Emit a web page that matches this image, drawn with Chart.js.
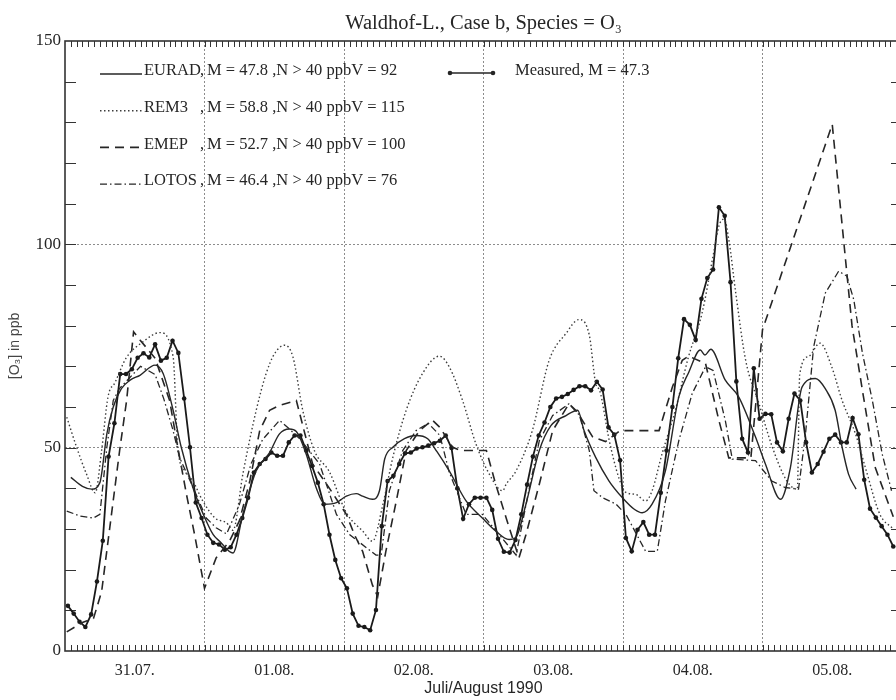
<!DOCTYPE html>
<html>
<head>
<meta charset="utf-8">
<script src="https://cdn.jsdelivr.net/npm/chart.js@4.4.1/dist/chart.umd.min.js"></script>
<style>
  html, body { margin: 0; padding: 0; background: #fff; overflow: hidden; }
  #wrap { width: 912px; height: 700px; }
</style>
</head>
<body>
<div id="wrap"><canvas id="chart" width="912" height="700"></canvas></div>
<script>
// hours since 31.07. 00:00
const dayLabels = ['31.07.', '01.08.', '02.08.', '03.08.', '04.08.', '05.08.'];

const modelNames = ['EURAD', 'REM3', 'EMEP', 'LOTOS'];
const modelMeans = ['47.8', '58.8', '52.7', '46.4'];
const modelCounts = ['92', '115', '100', '76'];
const measuredMean = '47.3';

// measured, hourly values (first one at 00:30 on 31.07.)
const measuredValues = [
  11.1, 9.2, 7.2, 5.9, 9.0, 17.1, 27.1, 47.8, 56.0, 68.1,
  68.1, 69.3, 72.1, 73.2, 72.2, 75.4, 71.4, 72.1, 76.3, 73.3,
  62.1, 50.1, 36.5, 32.7, 28.6, 26.6, 26.2, 24.9, 25.5, 28.6,
  32.7, 37.7, 43.9, 46.0, 47.2, 48.8, 48.0, 48.0, 51.3, 53.0,
  53.0, 49.3, 45.5, 41.4, 36.1, 28.6, 22.4, 17.9, 15.4, 9.2,
  6.2, 5.9, 5.1, 10.1, 30.7, 41.8, 43.1, 46.0, 48.6, 48.8,
  49.8, 50.1, 50.5, 51.1, 51.7, 53.0, 49.9, 40.0, 32.5, 36.1,
  37.7, 37.7, 37.7, 34.7, 27.6, 24.4, 24.2, 27.3, 33.6, 40.9,
  47.8, 53.0, 56.2, 60.0, 62.1, 62.5, 63.2, 64.2, 65.1, 65.1,
  64.1, 66.2, 64.3, 55.0, 53.2, 46.9, 27.8, 24.5, 29.8, 31.7,
  28.6, 28.6, 38.9, 49.3, 60.0, 72.0, 81.6, 80.2, 76.5, 86.6,
  91.7, 93.8, 109.1, 107.0, 90.7, 66.3, 52.2, 48.8, 69.5, 57.1,
  58.3, 58.2, 51.3, 49.1, 57.1, 63.3, 61.6, 51.3, 43.9, 46.0,
  49.0, 52.2, 53.2, 51.3, 51.3, 57.3, 53.3, 42.1, 35.0, 32.8,
  30.7, 28.6, 25.7
];

const euradHours = [1, 3, 4.6, 6, 7.2, 8.3, 9.7, 11.2, 12.9, 15.5, 16.9, 18.6, 20, 22, 23.8, 25.5, 26.6, 28.9, 30.6, 32.9,
  35.2, 36.9, 38.6, 39.8, 41.5, 43.2, 44.7, 46.7, 48.4, 50.1, 51.2, 52.9, 54.1, 55, 56.4, 58.4, 60.4, 62.4, 64, 66.1,
  69, 71.8, 74.1, 76.4, 77.6, 79.3, 81.6, 83.6, 86.2, 88.2, 89.3, 91.3, 93.6, 95.9, 98, 99.3, 101, 103.3, 105.6, 107.3,
  109.3, 110.1, 111.1, 113.6, 115.9, 118.8, 120.5, 123.1, 124.8, 126.8, 129.1, 130.8, 132.5, 133.7, 134.8, 136.1];
const euradValues = [42.7, 40.5, 39.8, 41.4, 53.4, 60, 64.5, 66.6, 67.8, 70.3, 68.2, 59.2, 50.1, 40.2, 33.6, 28.6, 27, 24.1, 33.6, 44.3,
  48.8, 53.4, 54.6, 54, 48.4, 40.2, 36.1, 36.5, 38.1, 38.7, 38.1, 37.3, 39.4, 47.2, 50.1, 52.2, 53, 52.2, 49, 44.3,
  36.9, 32.7, 29.5, 27.4, 28, 36.1, 49.3, 55.4, 57.9, 59.2, 54.2, 47.6, 41.8, 37.7, 34.8, 34, 36.1, 44.3, 62.5, 68.5,
  74, 72.8, 74.2, 66.6, 62.5, 52.6, 46, 37.3, 45.1, 64.9, 67, 64.5, 59.2, 50.1, 43.5, 39.8];

const remHours = [0.3, 2, 3.7, 5.2, 6.3, 7.4, 8.6, 10.5, 13.4, 16.3, 18.6, 19.4, 20.6, 22, 23.7, 25.8, 27.8, 28.9, 30.6, 32.9,
  34.6, 36, 37.8, 39.2, 40.9, 42.9, 45.5, 48.4, 51.2, 52.9, 54.7, 56.4, 58.7, 61.5, 64.4, 66.1, 68.4, 70.7, 73, 75.3,
  75.9, 77.6, 80.4, 83.3, 86.2, 88.4, 90.2, 91.3, 92, 93.6, 95.3, 96.5, 98.2, 99.9, 101, 102.7, 105, 107.2, 109.6, 111.6,
  112.5, 113.4, 114.2, 115.4, 117.1, 119.4, 121.6, 124.2, 126, 126.4, 127.9, 129.9, 131.9, 133.7, 136, 137.7, 140.2, 142.5];
const remValues = [57.5, 50.1, 43.5, 38.9, 49.3, 62.5, 66, 72, 76, 78.3, 72.4, 50, 44.3, 41.8, 36.9, 32.7, 31.5, 29.7, 43.5, 59.2,
  68.2, 73, 75.2, 72.4, 59.2, 49.3, 44, 34, 29.5, 27, 36.1, 47.6, 59.2, 68.2, 72.5, 69.9, 61.6, 50.9, 43.5, 39.4,
  41, 44.3, 54.2, 71.5, 78.1, 81.5, 77.7, 65.8, 64, 52, 42.5, 39, 38.5, 36.9, 39.4, 48.4, 59.2, 72, 83.1, 97.9,
  104.5, 106.2, 101.2, 88, 71.5, 60.8, 50.5, 41.8, 39.8, 68, 72.4, 75.7, 69.9, 61.6, 53.4, 45.1, 33.6, 30];

const emepHours = [0.3, 3, 4.9, 6.3, 7.7, 9.4, 10.6, 11.8, 12.9, 15.5, 18, 19.2, 20.9, 22.3, 24, 26, 28.3, 30, 31.8, 33.5,
  35.2, 36.9, 39.8, 42.6, 45.5, 48.4, 49.8, 51.2, 52.9, 53.8, 55.2, 57, 58.7, 61, 63.2, 64.5, 66.7, 68, 72.5, 74.1,
  75.9, 78.1, 79.3, 81.6, 83.9, 86.7, 88, 90.8, 93, 95.5, 102.2, 104.5, 106.2, 107.3, 110.2, 112.5, 114.2, 118, 120, 132,
  135.4, 137.2, 139.4, 142.5];
const emepValues = [4.7, 7, 8, 14.6, 30.3, 49.3, 61.6, 78.5, 76.5, 72, 61.6, 51.7, 38.5, 28.6, 15.4, 22.9, 27, 32, 41.8, 54.2,
  59.2, 60.4, 61.6, 46, 40, 33.6, 28.6, 24.5, 16.2, 13.4, 24.5, 36.9, 49.3, 54.2, 56.8, 55, 50.1, 49.3, 49.3, 41,
  32.7, 22.9, 28.6, 41, 54.2, 60.8, 59, 52.6, 51.5, 54.2, 54.2, 64.9, 71.5, 72.5, 70.7, 56.7, 47.5, 47.5, 79, 129.5,
  80, 64, 45.1, 33];

const lotosHours = [0.3, 2.6, 4.9, 6, 7.2, 8.3, 9.4, 11, 13, 15.5, 17, 18.6, 19.7, 21.8, 24.3, 26, 27.8, 30, 32, 34,
  36.9, 38.6, 40.5, 43.8, 46.7, 49, 50.4, 53.5, 54.4, 55.8, 58.1, 60.4, 62.5, 64.5, 66.1, 69, 71.8, 74.7, 77.6, 79.9,
  81.6, 83.9, 86.7, 88.5, 90.2, 91, 92.5, 94.8, 96.5, 99.9, 101.9, 103.3, 105.6, 107.9, 110.2, 111.5, 113.6, 114.8, 118.8, 121.6,
  123.9, 126.2, 127.4, 128.8, 130.8, 133.1, 134.5, 135.7, 137.2, 138.9, 140.6, 142.2];
const lotosValues = [34.4, 33.2, 32.7, 33.6, 50.1, 61.6, 64.6, 67, 70, 68, 62, 54.2, 47.6, 41, 32.7, 30.3, 28.8, 36, 46, 52,
  56.7, 54.6, 52, 46, 33.6, 28.6, 27, 23.6, 23.6, 39.4, 49.3, 54.2, 56, 53, 44, 33.6, 33.6, 28.6, 23.6, 40.2,
  51.7, 57.9, 60.8, 58, 49.3, 39.4, 37.7, 36.1, 33.6, 24.5, 24.5, 36.9, 51.7, 63.3, 69.9, 69, 56.7, 47.2, 46.8, 41.8,
  40.2, 39.8, 53.4, 74.8, 88, 93.4, 92.2, 86.4, 73.2, 61.6, 48.4, 39.4];

const serif = '"Liberation Serif", "Times New Roman", serif';
const sans = '"Liberation Sans", Arial, sans-serif';
const ink = '#262626';
const gridGray = '#8c8c8c';

function pairs(hours, values) {
  return hours.map((h, i) => ({ x: h, y: values[i] }));
}

// frame, inward tick combs and the in-plot legend
const framePlugin = {
  id: 'frame',
  beforeDatasetsDraw(chart) {
    const { ctx, chartArea: a, scales: { x, y } } = chart;
    ctx.save();
    ctx.strokeStyle = '#333';
    ctx.lineWidth = 1;
    ctx.beginPath();
    for (let h = x.min + 1; h < x.max; h++) {
      const px = Math.round(x.getPixelForValue(h)) + 0.5;
      ctx.moveTo(px, a.top);
      ctx.lineTo(px, a.top + 6);
      ctx.moveTo(px, a.bottom);
      ctx.lineTo(px, a.bottom - 6);
    }
    for (let v = 10; v < y.max; v += 10) {
      const py = Math.round(y.getPixelForValue(v)) + 0.5;
      ctx.moveTo(a.left, py);
      ctx.lineTo(a.left + 11, py);
      ctx.moveTo(a.right, py);
      ctx.lineTo(a.right - 11, py);
    }
    ctx.stroke();
    ctx.lineWidth = 1.6;
    ctx.strokeRect(a.left, a.top, a.right - a.left, a.bottom - a.top);
    ctx.restore();
  },
  afterDraw(chart) {
    const { ctx } = chart;
    ctx.save();
    ctx.font = '16.5px ' + serif;
    ctx.fillStyle = ink;
    ctx.textBaseline = 'middle';
    modelNames.forEach((name, i) => {
      const ds = chart.data.datasets[i];
      const yy = 71 + i * 36.7;
      ctx.strokeStyle = ds.borderColor;
      ctx.lineWidth = ds.borderWidth;
      ctx.setLineDash(ds.borderDash || []);
      ctx.beginPath();
      ctx.moveTo(100, yy + 3);
      ctx.lineTo(142, yy + 3);
      ctx.stroke();
      ctx.setLineDash([]);
      ctx.fillText(name, 144, yy);
      ctx.fillText(',', 200, yy);
      ctx.fillText('M = ' + modelMeans[i] + ' ,N > 40 ppbV = ' + modelCounts[i], 207, yy);
    });
    // measured entry
    ctx.strokeStyle = ink;
    ctx.lineWidth = 1.5;
    ctx.beginPath();
    ctx.moveTo(450, 73);
    ctx.lineTo(493, 73);
    ctx.stroke();
    [450, 493].forEach(px => {
      ctx.beginPath();
      ctx.arc(px, 73, 2.3, 0, Math.PI * 2);
      ctx.fill();
    });
    ctx.fillText('Measured, M = ' + measuredMean, 515, 71);
    ctx.restore();
  }
};

new Chart(document.getElementById('chart'), {
  type: 'line',
  data: {
    datasets: [
      {
        label: 'EURAD',
        data: pairs(euradHours, euradValues),
        borderColor: ink,
        borderWidth: 1.4,
        pointRadius: 0,
        cubicInterpolationMode: 'monotone'
      },
      {
        label: 'REM3',
        data: pairs(remHours, remValues),
        borderColor: '#3c3c3c',
        borderWidth: 1.4,
        borderDash: [1.5, 2.5],
        pointRadius: 0,
        cubicInterpolationMode: 'monotone'
      },
      {
        label: 'EMEP',
        data: pairs(emepHours, emepValues),
        borderColor: ink,
        borderWidth: 1.6,
        borderDash: [9, 6],
        pointRadius: 0,
        tension: 0
      },
      {
        label: 'LOTOS',
        data: pairs(lotosHours, lotosValues),
        borderColor: ink,
        borderWidth: 1.3,
        borderDash: [7, 3, 1.5, 3],
        pointRadius: 0,
        tension: 0
      },
      {
        label: 'Measured',
        data: measuredValues.map((v, i) => ({ x: i + 0.5, y: v })),
        borderColor: '#1a1a1a',
        borderWidth: 1.8,
        pointRadius: 2.3,
        pointBackgroundColor: '#1a1a1a',
        pointBorderWidth: 0,
        tension: 0
      }
    ]
  },
  options: {
    responsive: false,
    animation: false,
    events: [],
    layout: { padding: { right: 8 } },
    plugins: {
      legend: { display: false },
      tooltip: { enabled: false },
      title: {
        display: true,
        fullSize: false,
        text: 'Waldhof-L., Case b, Species = O₃',
        color: ink,
        font: { family: serif, size: 20.5, weight: 'normal' },
        padding: { top: 11, bottom: 5.4 }
      }
    },
    scales: {
      x: {
        type: 'linear',
        min: 0,
        max: 144,
        afterFit: s => { s.height = 49; },
        ticks: {
          stepSize: 12,
          autoSkip: false,
          maxRotation: 0,
          padding: 10,
          color: ink,
          font: { family: serif, size: 16 },
          callback: v => (v % 24 === 12 ? dayLabels[(v - 12) / 24] : '')
        },
        grid: {
          drawTicks: false,
          lineWidth: 1,
          color: c => (c.tick && c.tick.value % 24 === 0 && c.tick.value > 0 && c.tick.value < 144) ? gridGray : 'rgba(0,0,0,0)'
        },
        border: { display: false, dash: [2, 2] },
        title: {
          display: true,
          text: 'Juli/August 1990',
          color: ink,
          font: { family: sans, size: 16 },
          padding: { top: 0, bottom: 2 }
        }
      },
      y: {
        min: 0,
        max: 150,
        afterFit: s => { s.width = 65; },
        ticks: {
          stepSize: 50,
          padding: 4,
          color: ink,
          font: { family: serif, size: 17 }
        },
        grid: {
          drawTicks: false,
          lineWidth: 1,
          color: c => (c.tick && (c.tick.value === 50 || c.tick.value === 100)) ? gridGray : 'rgba(0,0,0,0)'
        },
        border: { display: false, dash: [2, 2] },
        title: {
          display: true,
          text: '[O₃] in ppb',
          color: '#444',
          font: { family: sans, size: 14 },
          padding: { top: 7, bottom: 0 }
        }
      }
    }
  },
  plugins: [framePlugin]
});
</script>
</body>
</html>
